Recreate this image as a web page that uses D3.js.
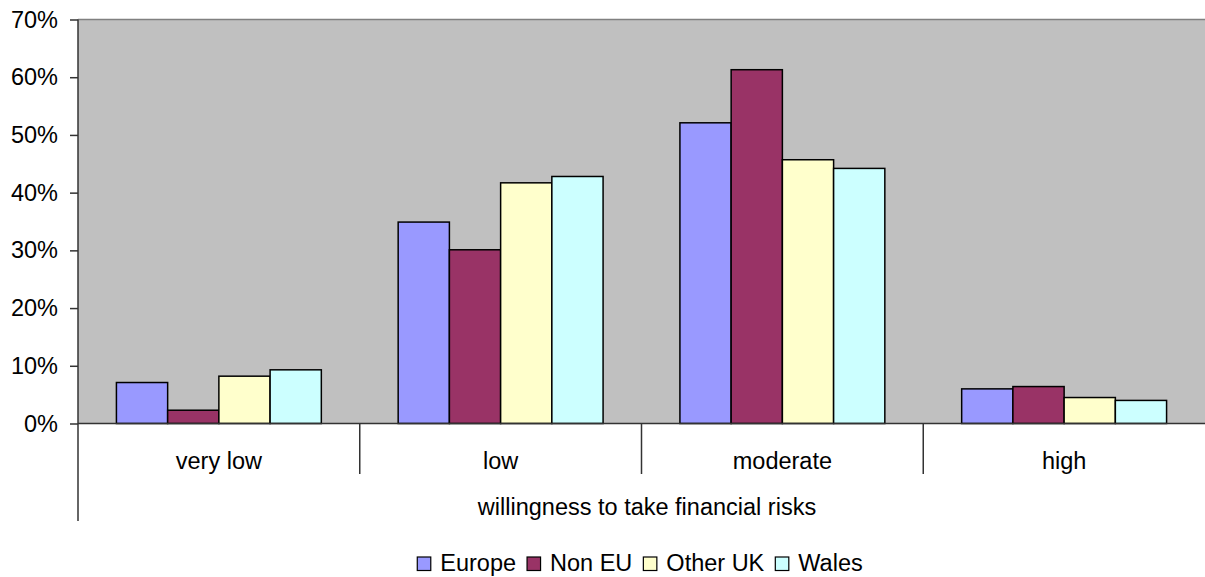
<!DOCTYPE html>
<html><head><meta charset="utf-8">
<script src="https://cdn.jsdelivr.net/npm/d3@7"></script>
<style>body{margin:0;background:#fff}svg{display:block;font-family:"Liberation Sans",Arial,sans-serif}</style>
</head><body>
<svg id="c" width="1205" height="577"></svg>
<script>
const categories = ["very low", "low", "moderate", "high"];
const seriesNames = ["Europe", "Non EU", "Other UK", "Wales"];
const europe  = [0.071, 0.349, 0.521, 0.060];
const nonEU   = [0.023, 0.301, 0.613, 0.064];
const otherUK = [0.082, 0.417, 0.457, 0.045];
const wales   = [0.093, 0.428, 0.442, 0.040];
const colors  = ["#9999FF", "#993366", "#FFFFCC", "#CCFFFF"];
const yTicks  = [0, 0.1, 0.2, 0.3, 0.4, 0.5, 0.6, 0.7];
const axisTitle = "willingness to take financial risks";

const seriesValues = [europe, nonEU, otherUK, wales];
const svg = d3.select("#c");
const L = 78, R = 1205, T = 19.5, B = 423.5;
const FS = 23.5;

const x0 = d3.scaleBand().domain(categories).range([L, R]).padding(0);
const x1 = d3.scaleBand().domain(seriesNames).range([0, x0.bandwidth()]).paddingInner(0).paddingOuter(0.75);
const y = d3.scaleLinear().domain([0, 0.7]).range([B, T]);

// plot background
svg.append("rect").attr("x", L).attr("y", T).attr("width", R - L).attr("height", B - T).attr("fill", "#C0C0C0");
svg.append("line").attr("x1", L).attr("x2", R).attr("y1", T).attr("y2", T).attr("stroke", "#808080").attr("stroke-width", 1.5);

// bars
const g = svg.append("g");
categories.forEach((c, ci) => {
  seriesNames.forEach((s, si) => {
    const v = seriesValues[si][ci];
    g.append("rect")
      .attr("x", x0(c) + x1(s))
      .attr("y", y(v))
      .attr("width", x1.bandwidth())
      .attr("height", y(0) - y(v))
      .attr("fill", colors[si])
      .attr("stroke", "#000").attr("stroke-width", 1.5);
  });
});

// y axis
const yAxis = d3.axisLeft(y).tickValues(yTicks).tickFormat(d3.format(".0%")).tickSize(8).tickPadding(12);
const ya = svg.append("g").attr("transform", `translate(${L},0)`).call(yAxis);
ya.select(".domain").remove();
ya.selectAll(".tick line").attr("stroke", "#333").attr("stroke-width", 1.5);
ya.selectAll(".tick text").attr("font-size", FS).attr("fill", "#000").attr("font-family", "Liberation Sans, Arial, sans-serif");
svg.append("line").attr("x1", L).attr("x2", L).attr("y1", T).attr("y2", 521).attr("stroke", "#333").attr("stroke-width", 1.5);

// x axis
svg.append("line").attr("x1", L).attr("x2", R).attr("y1", B).attr("y2", B).attr("stroke", "#333").attr("stroke-width", 1.5);
categories.slice(1).forEach(c => {
  svg.append("line").attr("x1", x0(c)).attr("x2", x0(c)).attr("y1", B).attr("y2", 474).attr("stroke", "#333").attr("stroke-width", 1.5);
});
categories.forEach(c => {
  svg.append("text").attr("x", x0(c) + x0.bandwidth() / 2).attr("y", 469)
    .attr("text-anchor", "middle").attr("font-size", FS).text(c);
});
svg.append("text").attr("x", 647).attr("y", 515)
  .attr("text-anchor", "middle").attr("font-size", FS).text(axisTitle);

// legend
const lg = svg.append("g");
let cx = 0;
const gap = 11;
seriesNames.forEach((s, i) => {
  const item = lg.append("g").attr("transform", `translate(${cx},0)`);
  item.append("rect").attr("x", 0).attr("y", -13.5).attr("width", 13.5).attr("height", 13.5)
    .attr("fill", colors[i]).attr("stroke", "#000").attr("stroke-width", 1.2);
  const t = item.append("text").attr("x", 23).attr("y", 0).attr("font-size", FS).text(s);
  cx += 23 + t.node().getComputedTextLength() + gap;
});
const total = cx - gap;
lg.attr("transform", `translate(${640 - total / 2},570.5)`);
</script>
</body></html>
